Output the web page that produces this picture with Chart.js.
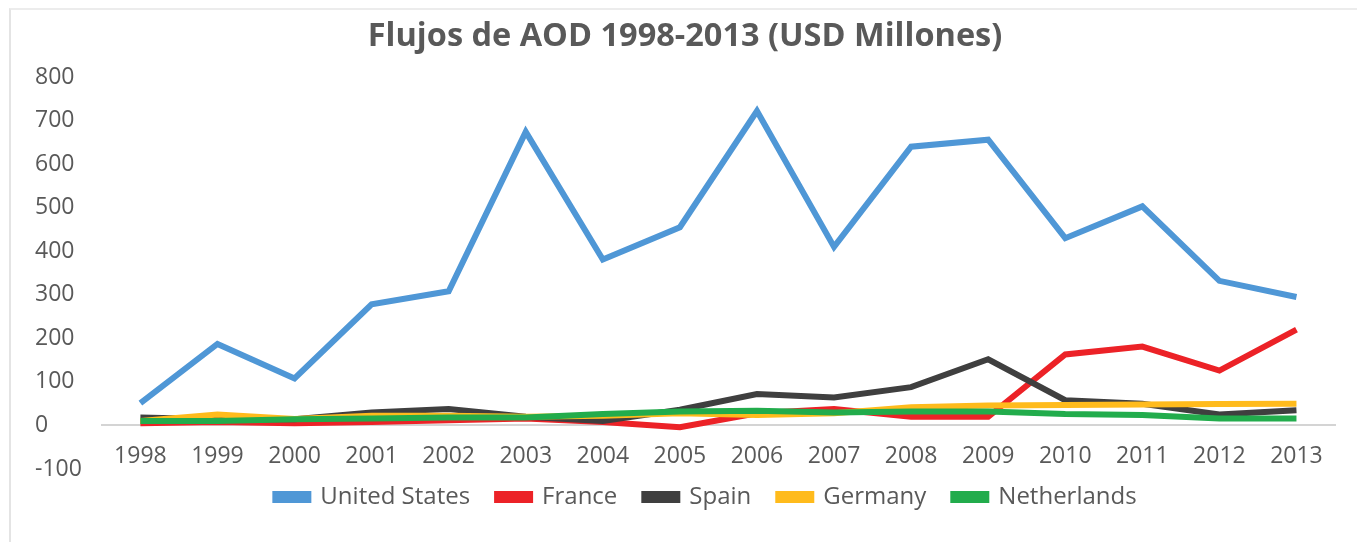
<!DOCTYPE html>
<html>
<head>
<meta charset="utf-8">
<script src="https://cdn.jsdelivr.net/npm/chart.js@4.4.1/dist/chart.umd.min.js"></script>
<style>
  html, body { margin: 0; padding: 0; background: #ffffff; }
  #frame {
    position: absolute; left: 9px; top: 8px; width: 1348px; height: 534px;
    border-left: 2px solid #e4e4e4; border-top: 2px solid #ececec;
    box-sizing: border-box;
  }
  #wrap { position: absolute; left: 0; top: 0; width: 1357px; height: 542px; }
</style>
</head>
<body>
<div id="frame"></div>
<div id="wrap"><canvas id="chart" width="1357" height="542"></canvas></div>
<script>
// Official development assistance flows, USD millions
const years = ['1998','1999','2000','2001','2002','2003','2004','2005','2006','2007','2008','2009','2010','2011','2012','2013'];
const unitedStates = [51, 187, 108, 278, 308, 674, 381, 455, 722, 410, 640, 656, 430, 503, 332, 295];
const france       = [5, 8, 5, 8, 12, 16, 8, -4, 28, 38, 20, 20, 163, 181, 126, 220];
const spain        = [18, 14, 14, 30, 38, 20, 10, 36, 72, 64, 88, 152, 58, 50, 25, 35];
const germany      = [10, 25, 15, 22, 22, 20, 22, 28, 24, 28, 42, 46, 47, 48, 49, 50];
const netherlands  = [10, 10, 14, 16, 18, 18, 26, 32, 34, 30, 32, 32, 26, 24, 16, 16];
const yTicks = [-100, 0, 100, 200, 300, 400, 500, 600, 700, 800];

const font = "'Open Sans', 'Noto Sans', sans-serif";
const textColor = '#595959';

function series(label, data, color, order) {
  return {
    label, data, order,
    borderColor: color, backgroundColor: color,
    borderWidth: 6, pointRadius: 0, pointHoverRadius: 0,
    tension: 0, fill: false, borderCapStyle: 'butt', borderJoinStyle: 'miter'
  };
}

// Nudge the bottom legend row so it sits under the plot's visual centre.
const legendShift = {
  id: 'legendShift',
  afterLayout(chart) {
    const lg = chart.legend;
    if (!lg) return;
    const dx = 21, dy = -11;
    lg.left += dx; lg.right += dx;
    lg.top += dy; lg.bottom += dy;
  }
};

new Chart(document.getElementById('chart'), {
  type: 'line',
  data: {
    labels: years,
    datasets: [
      series('United States', unitedStates, '#4f97d6', 4),
      series('France', france, '#ec2227', 3),
      series('Spain', spain, '#3f3f3f', 2),
      series('Germany', germany, '#ffbb1c', 1),
      series('Netherlands', netherlands, '#22ac4c', 0)
    ]
  },
  plugins: [legendShift],
  options: {
    responsive: false,
    animation: false,
    layout: { padding: { left: 35, right: 22, top: 6, bottom: 12 } },
    plugins: {
      title: {
        display: true,
        text: 'Flujos de AOD 1998-2013 (USD Millones)',
        color: textColor,
        font: { family: font, size: 32.5, weight: 'bold' },
        padding: { top: 11, bottom: 21 }
      },
      legend: {
        position: 'bottom',
        labels: {
          color: textColor,
          font: { family: font, size: 24 },
          boxWidth: 33, boxHeight: 6,
          padding: 27,
          sort: (a, b) => a.datasetIndex - b.datasetIndex
        }
      },
      tooltip: { enabled: false }
    },
    scales: {
      x: {
        position: { y: 0 },
        offset: true,
        grid: { display: false, drawTicks: false },
        border: { display: true, color: '#d4d4d4', width: 2 },
        ticks: { color: textColor, font: { family: font, size: 23 }, padding: 17, maxRotation: 0 }
      },
      y: {
        min: -100, max: 800,
        afterBuildTicks: (scale) => { scale.ticks = yTicks.map(v => ({ value: v })); },
        grid: { display: false, drawTicks: false },
        border: { display: false },
        ticks: { color: textColor, font: { family: font, size: 23 }, padding: 10, crossAlign: 'far' }
      }
    }
  }
});
</script>
</body>
</html>
